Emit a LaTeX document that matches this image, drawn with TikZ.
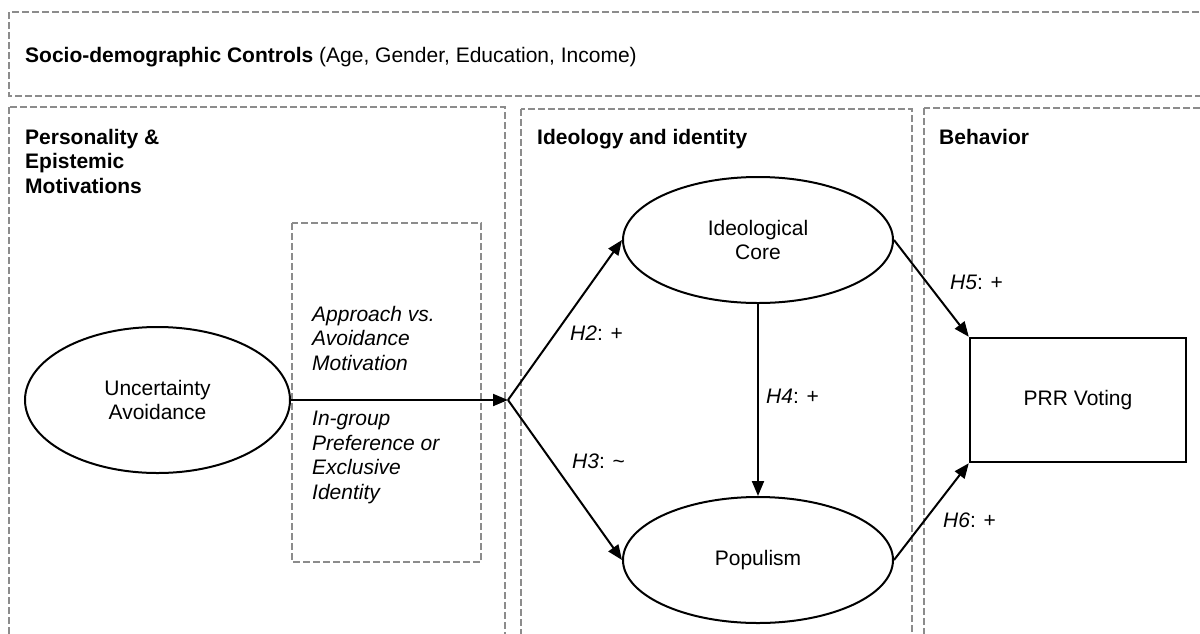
\documentclass[tikz,border=0pt]{standalone}
\usepackage{fontspec}
\setmainfont{Liberation Sans}
\usetikzlibrary{shapes.geometric,arrows.meta}
\definecolor{panelgray}{HTML}{8C8C8C}

\begin{document}
\begin{tikzpicture}[
    x=1pt, y=-1pt,
    every node/.style={inner sep=0pt, font=\fontsize{21}{24.5}\selectfont},
    panel/.style={draw=panelgray, line width=2pt, dash pattern=on 7pt off 3pt},
    heading/.style={anchor=base west, align=left, font=\fontsize{21}{24.5}\selectfont\bfseries},
    mech/.style={anchor=base west, align=left, font=\fontsize{21}{24.5}\selectfont\itshape},
    construct/.style={draw, ellipse, line width=2pt, align=center, minimum width=270pt, minimum height=126pt},
    outcome/.style={draw, rectangle, line width=2.4pt, minimum width=216pt, minimum height=124pt},
    hyp/.style={anchor=base west},
    link/.style={line width=2pt, -{Triangle[length=15pt, width=12pt]}}
  ]
    \useasboundingbox (0,0) rectangle (1200,633);

    % dashed panels
    \draw[panel] (9,12) rectangle (1225,96);
    \draw[panel] (9,107) rectangle (505,660);
    \draw[panel] (521,109) rectangle (912,660);
    \draw[panel] (924,108) rectangle (1225,660);
    \draw[panel] (292,223) rectangle (481,562);

    % panel headings (multi-line nodes sit on their last baseline)
    \node[anchor=base west] (controls) at (25,62) {\textbf{Socio-demographic Controls} (Age, Gender, Education, Income)};
    \node[heading] (personality) at (25,193) {Personality \&\\Epistemic\\Motivations};
    \node[heading] (ideology) at (537,144) {Ideology and identity};
    \node[heading] (behavior) at (939,144) {Behavior};

    % mechanisms
    \node[mech] (approach) at (312,370) {Approach vs.\\Avoidance\\Motivation};
    \node[mech] (ingroup) at (312,499) {In-group\\Preference or\\Exclusive\\Identity};

    % constructs
    \node[construct, minimum width=265pt, minimum height=146pt] (ua) at (157.5,400) {Uncertainty\\Avoidance};
    \node[construct] (core) at (758,240) {Ideological\\Core};
    \node[construct] (pop) at (758,560) {Populism};
    \node[outcome] (prr) at (1078,400) {PRR Voting};
    \coordinate (fork) at (508,400);

    \draw[link] (ua.east) -- (fork);
    \draw[link] (fork) -- (core.west);
    \draw[link] (fork) -- (pop.west);
    \draw[link] (core.south) -- (pop.north);
    \draw[link] (core.east) -- (prr.north west);
    \draw[link] (pop.east) -- (prr.south west);

    % hypotheses
    \node[hyp] (h2) at (570,340) {\textit{H2}: +};
    \node[hyp] (h3) at (572,468) {\textit{H3}: \textasciitilde};
    \node[hyp] (h4) at (766,403) {\textit{H4}: +};
    \node[hyp] (h5) at (950,289) {\textit{H5}: +};
    \node[hyp] (h6) at (943,527) {\textit{H6}: +};
  \end{tikzpicture}
\end{document}
